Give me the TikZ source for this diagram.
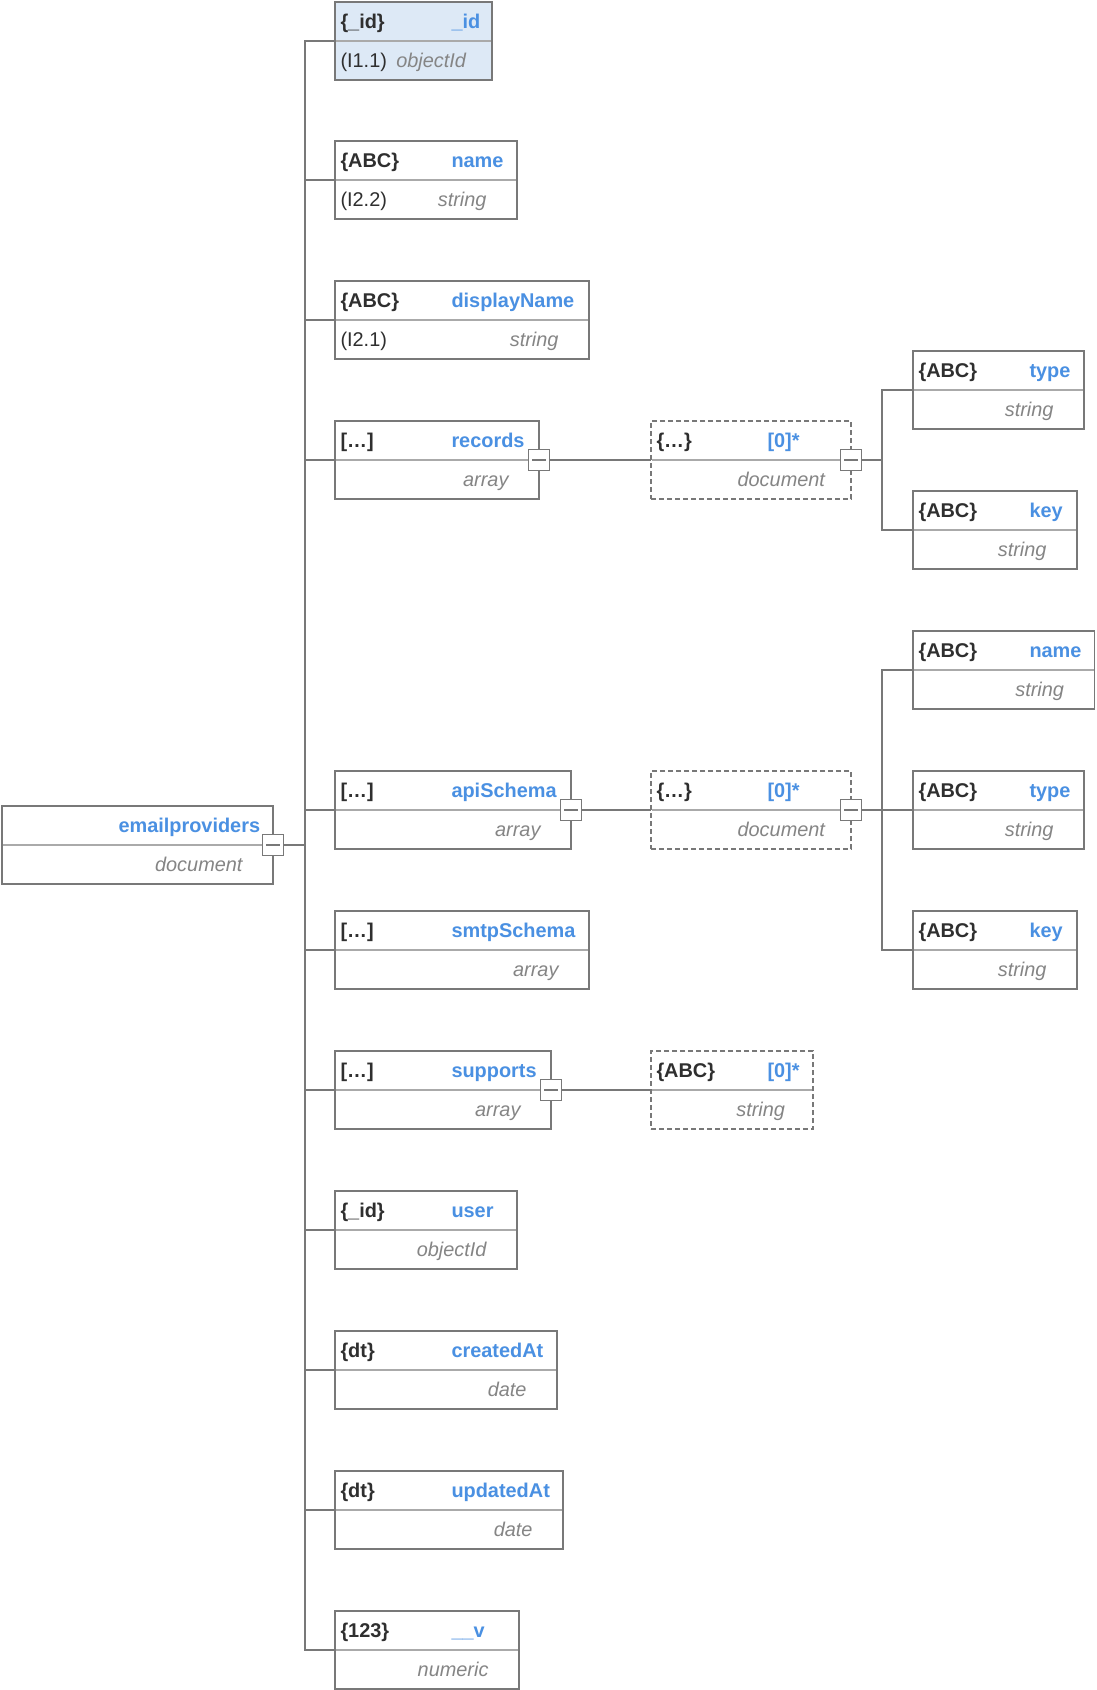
\documentclass[tikz,border=0pt]{standalone}
\usepackage{fontspec}
\setmainfont{Liberation Sans}
\definecolor{edgegray}{HTML}{787878}
\definecolor{rowgray}{HTML}{AAAAAA}
\definecolor{namblue}{HTML}{4A90E2}
\definecolor{typegray}{HTML}{858585}
\definecolor{inkdark}{HTML}{2F2F2F}
\definecolor{idfill}{HTML}{DDE9F6}

% name column and type offset (px units)
\def\nmcol{116.5}
\def\tyshift{30.5}

% #1 node name, #2 left, #3 top, #4 right, #5 box style,
% #6 type glyph, #7 field name, #8 data type, #9 reference tag
\newcommand\schemafield[9]{%
  \pgfmathsetmacro\fw{#4-#2}%
  \node[#5, minimum width=\fw pt, anchor=north west] (#1) at (#2,#3) {};
  \draw[rowline] ([xshift=0.8pt]#1.west) -- ([xshift=-0.8pt]#1.east);
  \node[glyph, anchor=base west] at ([xshift=5.5pt,yshift=-26.5pt]#1.north west) {#6};
  \node[fname, anchor=base west] at ([xshift=\nmcol pt,yshift=-26.5pt]#1.north west) {#7};
  \node[ftype, anchor=base east] at ([xshift=-\tyshift pt,yshift=12.5pt]#1.south east) {#8};
  \node[fref, anchor=base west] at ([xshift=5.5pt,yshift=12.5pt]#1.south west) {#9};
}

\begin{document}
\begin{tikzpicture}[x=1pt,y=-1pt,
  every node/.style={inner sep=0pt, outer sep=0pt},
  fbox/.style={draw=edgegray, line width=1.6pt, fill=white, minimum height=78pt},
  idbox/.style={fbox, fill=idfill},
  dbox/.style={fbox, line width=1.4pt, dash pattern=on 5pt off 3pt},
  rowline/.style={draw=rowgray, line width=1.5pt},
  glyph/.style={font=\fontsize{19.9}{22}\selectfont\bfseries, text=inkdark},
  fname/.style={font=\fontsize{19.9}{22}\selectfont\bfseries, text=namblue},
  ftype/.style={font=\fontsize{19.9}{22}\selectfont\itshape, text=typegray},
  fref/.style={font=\fontsize{19.9}{22}\selectfont, text=inkdark},
  btn/.style={draw=edgegray, fill=white, line width=1.5pt, minimum size=21pt},
  minus/.style={draw=edgegray, line width=1.5pt},
  conn/.style={draw=edgegray, line width=1.6pt}]

\useasboundingbox (0,0) rectangle (1096,1690);

% root collection
\schemafield{root}{2}{806}{273}{fbox}{}{emailproviders}{document}{}

% top-level fields
\begin{scope}
  \def\tyshift{26}
  \schemafield{fid}{335}{2}{492}{idbox}{\{\_id\}}{\_id}{objectId}{(I1.1)}
\end{scope}
\schemafield{fname}{335}{141}{517}{fbox}{\{ABC\}}{name}{string}{(I2.2)}
\schemafield{fdisp}{335}{281}{589}{fbox}{\{ABC\}}{displayName}{string}{(I2.1)}
\schemafield{frec}{335}{421}{539}{fbox}{[…]}{records}{array}{}
\schemafield{fapi}{335}{771}{571}{fbox}{[…]}{apiSchema}{array}{}
\schemafield{fsmtp}{335}{911}{589}{fbox}{[…]}{smtpSchema}{array}{}
\schemafield{fsup}{335}{1051}{551}{fbox}{[…]}{supports}{array}{}
\schemafield{fuser}{335}{1191}{517}{fbox}{\{\_id\}}{user}{objectId}{}
\schemafield{fcre}{335}{1331}{557}{fbox}{\{dt\}}{createdAt}{date}{}
\schemafield{fupd}{335}{1471}{563}{fbox}{\{dt\}}{updatedAt}{date}{}
\schemafield{fver}{335}{1611}{519}{fbox}{\{123\}}{\_\_v}{numeric}{}

% array items
\begin{scope}
  \def\tyshift{26}
  \schemafield{recdoc}{651}{421}{851}{dbox}{\{…\}}{[0]*}{document}{}
  \schemafield{apidoc}{651}{771}{851}{dbox}{\{…\}}{[0]*}{document}{}
  \def\tyshift{28}
  \schemafield{supstr}{651}{1051}{813}{dbox}{\{ABC\}}{[0]*}{string}{}
\end{scope}

% item sub-fields
\schemafield{rtype}{913}{351}{1084}{fbox}{\{ABC\}}{type}{string}{}
\schemafield{rkey}{913}{491}{1077}{fbox}{\{ABC\}}{key}{string}{}
\schemafield{aname}{913}{631}{1094.5}{fbox}{\{ABC\}}{name}{string}{}
\schemafield{atype}{913}{771}{1084}{fbox}{\{ABC\}}{type}{string}{}
\schemafield{akey}{913}{911}{1077}{fbox}{\{ABC\}}{key}{string}{}

% collapse buttons
\foreach \b/\host in {b0/root, b1/frec, b2/recdoc, b3/fapi, b4/apidoc, b5/fsup}{
  \node[btn] (\b) at (\host.east) {};
  \draw[minus] ([xshift=-7pt]\b.center) -- ([xshift=7pt]\b.center);
}

% junctions
\coordinate (j0) at (305,845);
\coordinate (j1) at (882,460);
\coordinate (j2) at (882,810);

% connectors
\draw[conn] (b0.east) -- (j0);
\foreach \c in {fid,fname,fdisp,frec,fapi,fsmtp,fsup,fuser,fcre,fupd,fver}
  \draw[conn] (j0) |- (\c.west);
\draw[conn] (b1.east) -- (recdoc.west);
\draw[conn] (b2.east) -- (j1);
\foreach \c in {rtype,rkey} \draw[conn] (j1) |- (\c.west);
\draw[conn] (b3.east) -- (apidoc.west);
\draw[conn] (b4.east) -- (j2);
\foreach \c in {aname,atype,akey} \draw[conn] (j2) |- (\c.west);
\draw[conn] (b5.east) -- (supstr.west);

\end{tikzpicture}
\end{document}
